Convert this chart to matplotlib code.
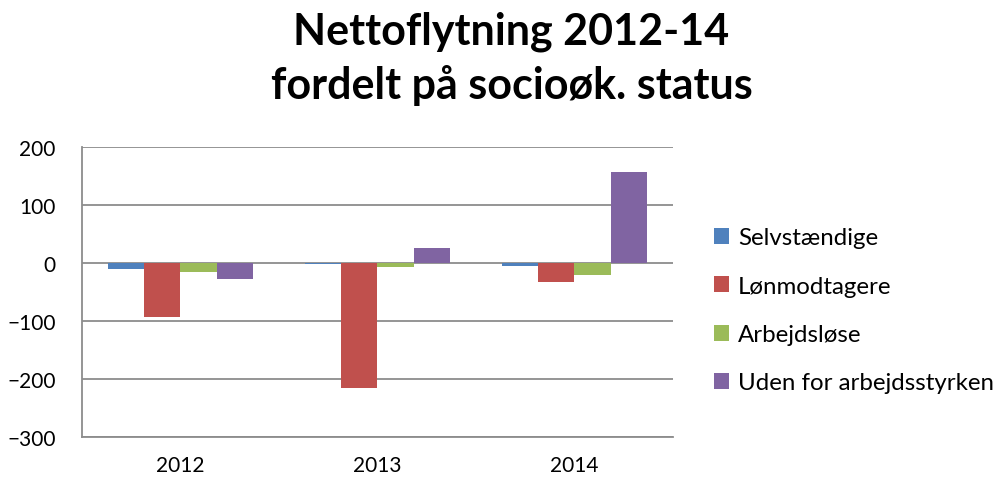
import numpy as np
import matplotlib
matplotlib.use("Agg")
import matplotlib.pyplot as plt

plt.rcParams['font.family'] = ['Lato', 'DejaVu Sans']

years = ['2012', '2013', '2014']
series = ['Selvstændige', 'Lønmodtagere', 'Arbejdsløse', 'Uden for arbejdsstyrken']
selvstaendige = [-10, -1, -6]
lonmodtagere = [-93, -215, -33]
arbejdslose = [-15, -7, -21]
uden_for = [-27, 25, 156]
colors = ['#4F81BD', '#C0504D', '#9BBB59', '#8064A2']

values = [selvstaendige, lonmodtagere, arbejdslose, uden_for]

fig = plt.figure(figsize=(10.01, 4.85), dpi=100)
ax = fig.add_axes([0.0819, 0.097, 0.5904, 0.598])

x = np.arange(len(years))
w = 0.183
for i, (name, vals) in enumerate(zip(series, values)):
    ax.bar(x + (i - 1.5) * w, vals, w, color=colors[i], label=name, zorder=3)

ax.set_xlim(-0.5, 2.5)
ax.set_ylim(-300, 200)
ax.set_yticks(range(-300, 201, 100))
ax.set_xticks(x)
ax.set_xticklabels(years)
ax.yaxis.grid(True, color='#8c8c8c', linewidth=1.3, zorder=1)
ax.set_axisbelow(True)
for s in ['top', 'right']:
    ax.spines[s].set_visible(False)
for s in ['left', 'bottom']:
    ax.spines[s].set_color('#8c8c8c')
    ax.spines[s].set_linewidth(1.3)
ax.tick_params(axis='y', length=0, pad=19, labelsize=15)
ax.tick_params(axis='x', length=0, pad=13, labelsize=15)

fig.text(0.511, 0.878, 'Nettoflytning 2012-14\nfordelt på socioøk. status',
         ha='center', va='center', fontsize=31, fontweight='bold',
         linespacing=1.38)

ax.legend(loc='center left', bbox_to_anchor=(0.713, 0.358),
          bbox_transform=fig.transFigure, frameon=False, fontsize=17.3,
          handlelength=0.65, handleheight=0.65, handletextpad=0.35,
          labelspacing=1.14, borderpad=0, borderaxespad=0)

fig.savefig('out.png', dpi=100)
